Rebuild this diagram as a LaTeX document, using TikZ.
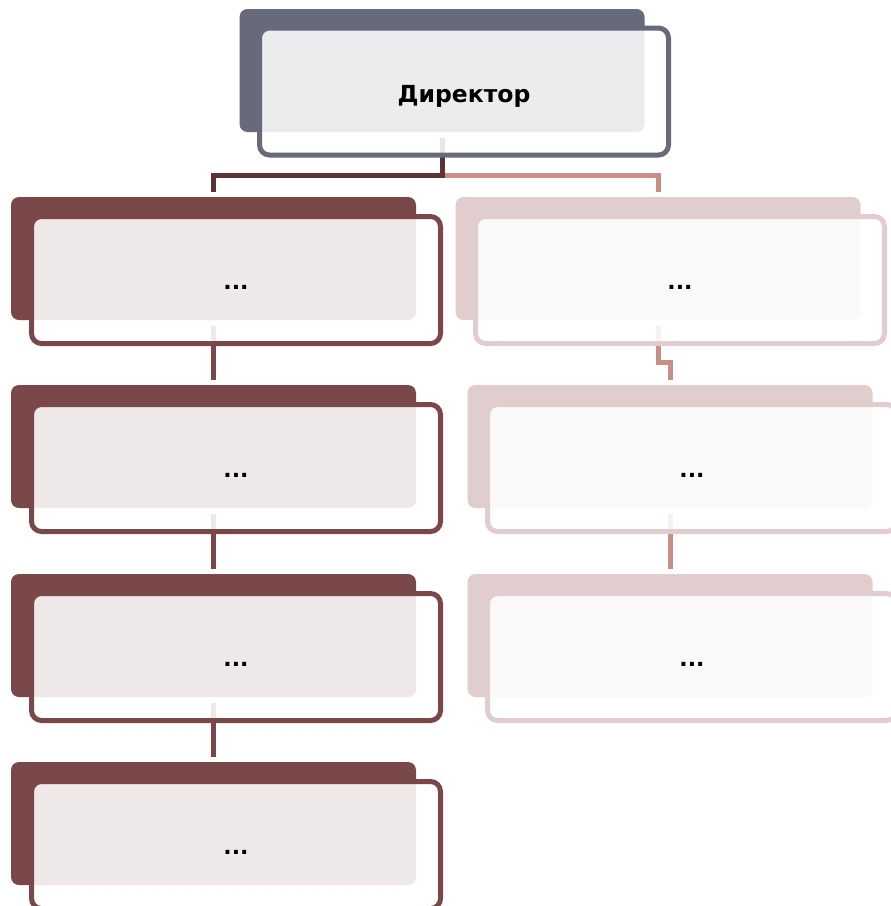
\documentclass[tikz,border=0pt]{standalone}
\usepackage{fontspec}
\setmainfont{DejaVu Sans}
\definecolor{dirdark}{HTML}{676A7A}
\definecolor{ldark}{HTML}{7A4849}
\definecolor{rlight}{HTML}{E1CDCE}
\definecolor{conndark}{HTML}{5C3435}
\definecolor{connpink}{HTML}{C98F87}
\pgfdeclarelayer{back}
\pgfdeclarelayer{conn}
\pgfsetlayers{back,conn,main}
\begin{document}
\begin{tikzpicture}[x=1pt,y=-1pt,
  backbox/.style={rectangle, rounded corners=8pt, minimum width=405pt, minimum height=123pt, inner sep=0pt, draw=none},
  frontbox/.style={rectangle, rounded corners=10pt, minimum width=409pt, minimum height=127pt, inner sep=0pt, line width=5pt, fill=white, fill opacity=0.88, text opacity=1, text=black, text depth=0pt},
  dirback/.style={backbox, fill=dirdark},
  dirfront/.style={frontbox, draw=dirdark, text height=21pt, font=\fontsize{23.5}{26}\selectfont\bfseries},
  lback/.style={backbox, fill=ldark},
  lfront/.style={frontbox, draw=ldark, text height=18pt, font=\fontsize{22}{26}\selectfont\bfseries},
  rback/.style={backbox, fill=rlight},
  rfront/.style={frontbox, draw=rlight, text height=18pt, font=\fontsize{22}{26}\selectfont\bfseries},
  conn/.style={line width=5pt},
  connfull/.style={conn, shorten <=6pt, shorten >=5pt},
]
\useasboundingbox (0,0) rectangle (891,906);
\clip (0,0) rectangle (891,906);
\begin{pgfonlayer}{back}
  \node[dirback] (db) at (442,70.5) {};
  \node[lback] (l1b) at (213.5,258.5) {};
  \node[lback] (l2b) at (213.5,446.5) {};
  \node[lback] (l3b) at (213.5,635.5) {};
  \node[lback] (l4b) at (213.5,823.5) {};
  \node[rback] (r1b) at (658,258.5) {};
  \node[rback] (r2b) at (670,446.5) {};
  \node[rback] (r3b) at (670,635.5) {};
\end{pgfonlayer}
\coordinate (junc) at (442,175.5);
\coordinate (rjog) at (658,362);
\begin{pgfonlayer}{conn}
  \draw[conn, draw=connpink, shorten >=5pt] (junc) -| (r1b.north);
  \draw[connfull, draw=conndark] (db.south) -- (junc) -| (l1b.north);
  \draw[connfull, draw=ldark] (l1b.south) -- (l2b.north);
  \draw[connfull, draw=ldark] (l2b.south) -- (l3b.north);
  \draw[connfull, draw=ldark] (l3b.south) -- (l4b.north);
  \draw[connfull, draw=connpink] (r1b.south) -- (rjog) -| (r2b.north);
  \draw[connfull, draw=connpink] (r2b.south) -- (r3b.north);
\end{pgfonlayer}
\node[dirfront] (d) at (464,91.5) {Директор};
\node[lfront] (l1) at (236,280) {...};
\node[lfront] (l2) at (236,468) {...};
\node[lfront] (l3) at (236,657) {...};
\node[lfront] (l4) at (236,845) {...};
\node[rfront] (r1) at (680,280) {...};
\node[rfront] (r2) at (692,468) {...};
\node[rfront] (r3) at (692,657) {...};
\end{tikzpicture}
\end{document}
